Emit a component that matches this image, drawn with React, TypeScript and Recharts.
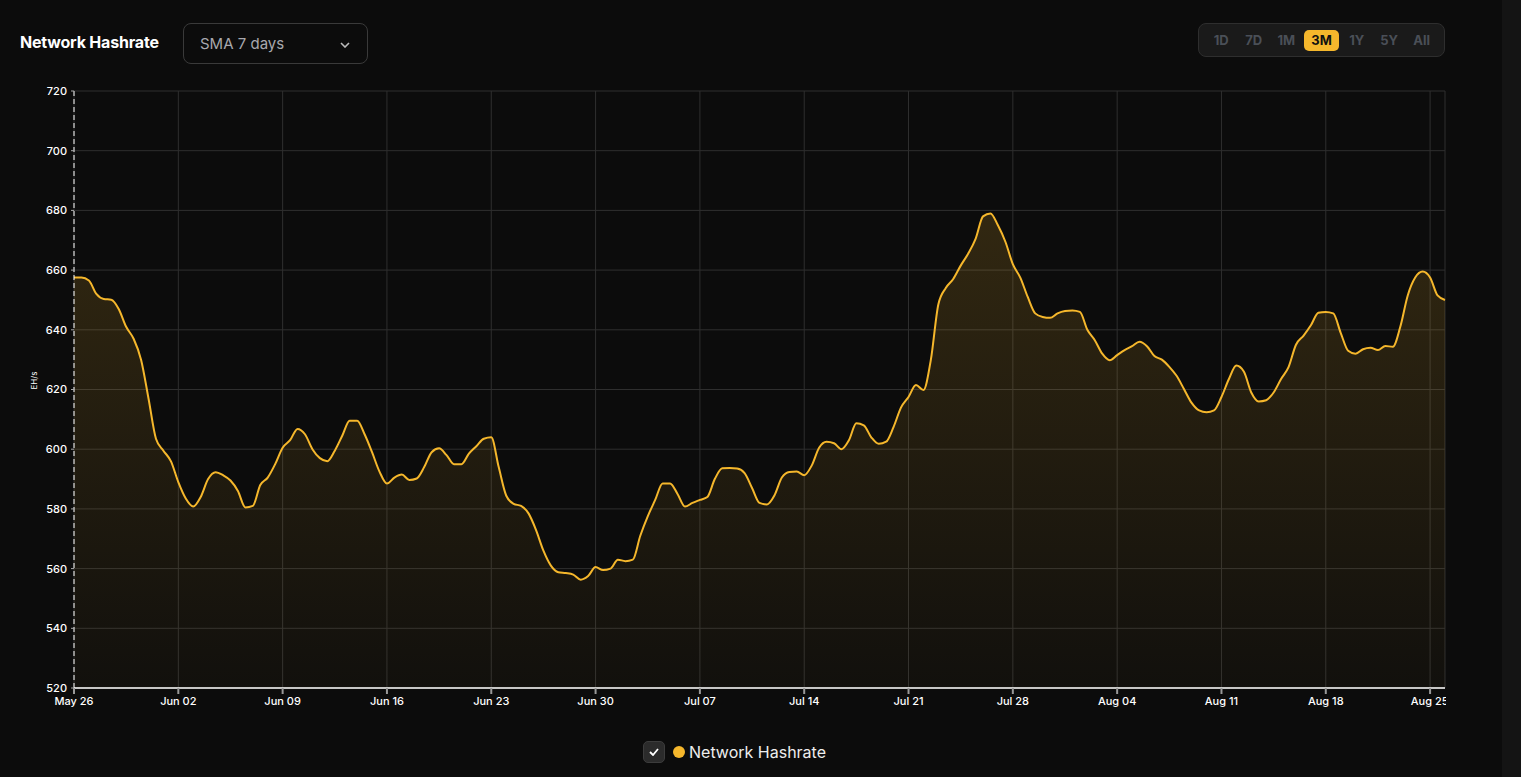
import React from "react";
import { AreaChart, Area, XAxis, YAxis, CartesianGrid } from "recharts";

// 7-day SMA network hashrate (EH/s), one value every 12 hours from May 26 to Aug 26
const hashrate = [
  // May 26 - Jun 01
  657.5, 657.5, 656.5, 652, 650.3, 650.1, 647, 641, 637, 630, 617, 603.5, 599.5, 596,
  // Jun 02 - Jun 08
  589, 583.5, 580.8, 584, 590, 592.3, 591.3, 589.5, 586, 580.5, 581, 588, 590.5, 595,
  // Jun 09 - Jun 15
  600.5, 603, 606.8, 605, 600, 597, 596, 599.5, 604.5, 609.5, 609.5, 605, 599, 592.5,
  // Jun 16 - Jun 22
  588.5, 590.5, 591.5, 589.7, 590.2, 594, 599, 600.3, 598, 595, 595, 598.5, 601, 603.5,
  // Jun 23 - Jun 29
  604, 594, 584.5, 581.7, 581, 578.5, 573, 566, 561, 558.8, 558.5, 558, 556.3, 557.5,
  // Jun 30 - Jul 06
  560.5, 559.5, 560, 563, 562.5, 563, 571, 577.5, 583, 588.5, 588.5, 585, 580.8, 582,
  // Jul 07 - Jul 13
  583, 584, 590, 593.6, 593.7, 593.5, 592, 587, 582, 581.5, 584.5, 590.5, 592.4, 592.5,
  // Jul 14 - Jul 20
  591.3, 594.5, 600.5, 602.5, 602, 600, 603, 608.7, 608, 604, 601.8, 602.5, 607.5, 614,
  // Jul 21 - Jul 27
  617.5, 621.5, 619.8, 630, 648.5, 654, 657, 661.5, 665.5, 670.5, 678, 679, 675, 669.5,
  // Jul 28 - Aug 03
  662, 657.5, 651, 645.5, 644.3, 644, 645.5, 646.3, 646.5, 646, 640, 636.5, 632, 629.8,
  // Aug 04 - Aug 10
  631.5, 633.2, 634.5, 636, 634.5, 631.2, 630, 627.6, 624.5, 620, 615.5, 613, 612.4, 613,
  // Aug 11 - Aug 17
  617.5, 623.5, 628, 626, 619, 616, 616.4, 619, 623.5, 627.5, 635, 638, 641.5, 645.7,
  // Aug 18 - Aug 24
  646, 645.5, 639, 633, 632, 633.5, 634, 633.2, 634.6, 634.3, 641, 651.5, 657.5, 659.5,
  // Aug 25 - Aug 26
  657.5, 651.5, 650,
];

const tickLabels = [
  "May 26", "Jun 02", "Jun 09", "Jun 16", "Jun 23", "Jun 30", "Jul 07",
  "Jul 14", "Jul 21", "Jul 28", "Aug 04", "Aug 11", "Aug 18", "Aug 25",
];
const xTicks = tickLabels.map((_, i) => i * 7);
const yTicks = [520, 540, 560, 580, 600, 620, 640, 660, 680, 700, 720];
const ranges = ["1D", "7D", "1M", "3M", "1Y", "5Y", "All"];

const data = hashrate.map((value, i) => ({ day: i / 2, value }));

const YELLOW = "#f5b72c";
const FONT = "Inter, 'Noto Sans', sans-serif";

export default function App() {
  return (
    <div
      style={{
        position: "fixed",
        left: 0,
        top: 0,
        width: 1521,
        height: 777,
        background: "#0c0c0c",
        fontFamily: FONT,
        overflow: "hidden",
      }}
    >
      <div style={{ position: "absolute", right: 0, top: 0, width: 19, height: 777, background: "#141414" }} />

      <div style={{ position: "absolute", left: 20, top: 32, color: "#fff", fontSize: 16, fontWeight: 700, letterSpacing: -0.2 }}>
        Network Hashrate
      </div>

      <div
        style={{
          position: "absolute",
          left: 183,
          top: 23,
          width: 185,
          height: 41,
          border: "1px solid #3a3a3a",
          borderRadius: 8,
          boxSizing: "border-box",
          color: "#a8a8ad",
          fontSize: 15,
          lineHeight: "39px",
          paddingLeft: 16,
        }}
      >
        SMA 7 days
        <svg width="10" height="6" style={{ position: "absolute", right: 17, top: 18 }}>
          <path d="M1 1 L5 5 L9 1" fill="none" stroke="#bbb" strokeWidth="1.6" />
        </svg>
      </div>

      <div
        style={{
          position: "absolute",
          left: 1198,
          top: 23,
          width: 247,
          height: 34,
          background: "#1a1a1a",
          border: "1px solid #2e2e2e",
          borderRadius: 8,
          boxSizing: "border-box",
          display: "flex",
          alignItems: "center",
          padding: "0 6px",
        }}
      >
        {ranges.map((r) => (
          <div
            key={r}
            style={{
              width: r === "3M" ? 37 : 33.5,
              margin: r === "3M" ? "0 1px" : 0,
              height: 21,
              lineHeight: "21px",
              textAlign: "center",
              borderRadius: 5,
              fontSize: 13,
              fontWeight: 700,
              background: r === "3M" ? YELLOW : "transparent",
              color: r === "3M" ? "#111" : "#4a4f57",
            }}
          >
            {r}
          </div>
        ))}
      </div>

      <div style={{ position: "absolute", left: 0, top: 0 }}>
        <AreaChart
          width={1446}
          height={720}
          data={data}
          margin={{ top: 91, right: 1, bottom: 2, left: 26 }}
          style={{ fontFamily: FONT }}
        >
          <defs>
            <linearGradient id="hashFill" x1="0" y1="0" x2="0" y2="1">
              <stop offset="0%" stopColor={YELLOW} stopOpacity={0.27} />
              <stop offset="100%" stopColor={YELLOW} stopOpacity={0.04} />
            </linearGradient>
          </defs>
          <CartesianGrid stroke="#2f2f2f" strokeWidth={1} />
          <XAxis
            dataKey="day"
            type="number"
            domain={[0, 92]}
            ticks={xTicks}
            tickFormatter={(d: number) => tickLabels[Math.round(d / 7)]}
            height={30}
            axisLine={{ stroke: "#ffffff", strokeWidth: 1.5 }}
            tickLine={{ stroke: "#999", strokeWidth: 2 }}
            tickSize={6}
            tick={{ fill: "#ffffff", fontSize: 11, fontWeight: 500 }}
            tickMargin={3}
          />
          <YAxis
            domain={[520, 720]}
            ticks={yTicks}
            width={48}
            axisLine={{ stroke: "#ffffff", strokeDasharray: "5 3" }}
            tickLine={{ stroke: "#aaa" }}
            tickSize={3}
            tickMargin={4}
            tick={{ fill: "#ffffff", fontSize: 11, fontWeight: 500 }}
            label={{ value: "EH/s", angle: -90, position: "insideLeft", offset: 8, fill: "#ffffff", fontSize: 8 }}
          />
          <Area
            type="monotone"
            dataKey="value"
            stroke={YELLOW}
            strokeWidth={2}
            fill="url(#hashFill)"
            dot={false}
            activeDot={false}
            isAnimationActive={false}
          />
        </AreaChart>
      </div>

      <div
        style={{
          position: "absolute",
          left: 643,
          top: 741,
          display: "flex",
          alignItems: "center",
          color: "#eee",
          fontSize: 16,
        }}
      >
        <div
          style={{
            width: 22,
            height: 22,
            borderRadius: 5,
            background: "#2b2b2b",
            border: "1px solid #3c3c3c",
            boxSizing: "border-box",
            display: "flex",
            alignItems: "center",
            justifyContent: "center",
          }}
        >
          <svg width="10" height="8">
            <path d="M1 4 L4 7 L9 1" fill="none" stroke="#fff" strokeWidth="1.8" />
          </svg>
        </div>
        <div style={{ width: 12, height: 12, borderRadius: 6, background: YELLOW, marginLeft: 8, marginRight: 4 }} />
        <span>Network Hashrate</span>
      </div>
    </div>
  );
}
